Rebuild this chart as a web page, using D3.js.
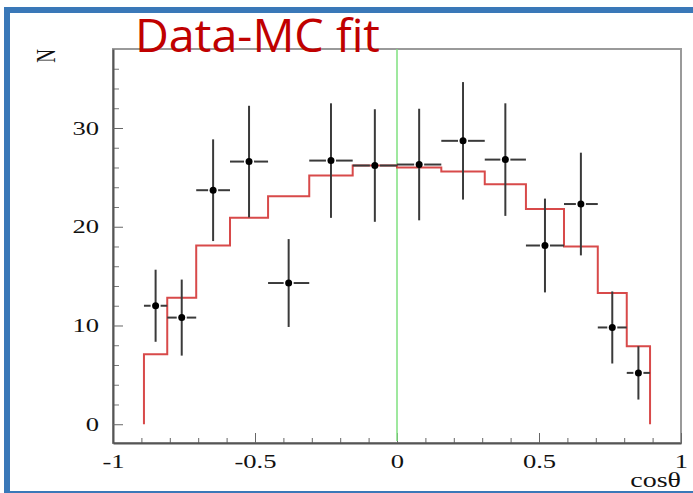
<!DOCTYPE html>
<html>
<head>
<meta charset="utf-8">
<script src="https://cdn.jsdelivr.net/npm/d3@7"></script>
<style>
  html, body { margin: 0; padding: 0; background: #ffffff; }
  svg { display: block; }
</style>
</head>
<body>
<svg id="chart" width="693" height="493"></svg>
<script>
// Bin edges in cos(theta) (equal 9-degree bins in theta)
const binEdges = [-0.891, -0.809, -0.707, -0.588, -0.454, -0.309, -0.156, 0,
                  0.156, 0.309, 0.454, 0.588, 0.707, 0.809, 0.891];
// Measured counts per bin and their errors
const dataCounts = [12.0, 10.8, 23.7, 26.6, 14.3, 26.7, 26.2, 26.3, 28.7, 26.8, 18.1, 22.3, 9.8, 5.2];
const dataErrors = [3.65, 3.85, 5.15, 5.65, 4.45, 5.8, 5.7, 5.65, 5.95, 5.7, 4.75, 5.2, 3.65, 2.7];
// Fitted Monte Carlo histogram
const mcCounts = [7.1, 12.8, 18.1, 20.9, 23.1, 25.2, 26.2, 26.0, 25.6, 24.3, 21.8, 18.0, 13.3, 7.9];
// Axis ticks
const xMajorTicks = [-1, -0.5, 0, 0.5, 1];
const xTickLabels = ["-1", "-0.5", "0", "0.5", "1"];
const yMajorTicks = [0, 10, 20, 30];
const yTickLabels = ["0", "10", "20", "30"];

const svg = d3.select("#chart");
const frame = { left: 113, right: 681, top: 49, bottom: 443 };
// the plot's text is drawn horizontally stretched
const stretch = 1.4;

const x = d3.scaleLinear().domain([-1, 1]).range([frame.left, frame.right]);
const y = d3.scaleLinear().domain([-1.9, 38]).range([frame.bottom, frame.top]);

// Slide border
svg.append("rect")
  .attr("x", 7).attr("y", 10)
  .attr("width", 730).attr("height", 484)
  .attr("fill", "#ffffff")
  .attr("stroke", "#3a78b8")
  .attr("stroke-width", 6);

// Plot frame
svg.append("rect")
  .attr("x", frame.left).attr("y", frame.top)
  .attr("width", frame.right - frame.left).attr("height", frame.bottom - frame.top)
  .attr("fill", "none")
  .attr("stroke", "#9a9a9a")
  .attr("stroke-width", 2);

const serif = "'Liberation Serif', 'DejaVu Serif', serif";

// X axis: major and minor ticks pointing inward
const xMinor = d3.range(-0.9, 1.0, 0.1).map(v => +v.toFixed(1)).filter(v => xMajorTicks.indexOf(v) < 0);
const xAxisMinor = svg.append("g")
  .attr("transform", `translate(0,${frame.bottom})`)
  .call(d3.axisBottom(x).tickValues(xMinor).tickSizeInner(-5).tickSizeOuter(0).tickFormat(""));
xAxisMinor.select(".domain").remove();
xAxisMinor.selectAll("line").attr("stroke", "#666").attr("stroke-width", 1);

const xAxis = svg.append("g")
  .attr("transform", `translate(0,${frame.bottom})`)
  .call(d3.axisBottom(x).tickValues(xMajorTicks).tickSizeInner(-10).tickSizeOuter(0)
    .tickPadding(12).tickFormat((d, i) => xTickLabels[i]));
xAxis.select(".domain").attr("stroke", "#555").attr("stroke-width", 2);
xAxis.selectAll("line").attr("stroke", "#666").attr("stroke-width", 1);
xAxis.selectAll("text")
  .attr("font-family", serif).attr("font-size", 19).attr("fill", "#111")
  .attr("transform", `scale(${stretch},1)`);

// Y axis: major and minor ticks pointing inward
const yMinor = d3.range(0, 38, 2).filter(v => yMajorTicks.indexOf(v) < 0);
const yAxisMinor = svg.append("g")
  .attr("transform", `translate(${frame.left},0)`)
  .call(d3.axisLeft(y).tickValues(yMinor).tickSizeInner(-6).tickSizeOuter(0).tickFormat(""));
yAxisMinor.select(".domain").remove();
yAxisMinor.selectAll("line").attr("stroke", "#777").attr("stroke-width", 1);

const yAxis = svg.append("g")
  .attr("transform", `translate(${frame.left},0)`)
  .call(d3.axisLeft(y).tickValues(yMajorTicks).tickSizeInner(-10).tickSizeOuter(0)
    .tickPadding(14 / stretch).tickFormat((d, i) => yTickLabels[i]));
yAxis.select(".domain").attr("stroke", "#555").attr("stroke-width", 2);
yAxis.selectAll("line").attr("stroke", "#666").attr("stroke-width", 1);
yAxis.selectAll("text")
  .attr("font-family", serif).attr("font-size", 19).attr("fill", "#111")
  .attr("transform", `scale(${stretch},1)`);

// Axis titles
svg.append("text")
  .attr("transform", `translate(${frame.right},487) scale(${stretch},1)`)
  .attr("text-anchor", "end")
  .attr("font-family", serif).attr("font-size", 20).attr("fill", "#111")
  .text("cosθ");

svg.append("text")
  .attr("transform", `translate(55,56) scale(${stretch},1) rotate(-90)`)
  .attr("text-anchor", "middle")
  .attr("font-family", serif).attr("font-size", 19).attr("fill", "#111")
  .text("N");

// Green marker line at cosθ = 0
svg.append("line")
  .attr("x1", x(0)).attr("x2", x(0))
  .attr("y1", frame.top).attr("y2", frame.bottom - 2)
  .attr("stroke", "#7fe07f").attr("stroke-width", 1.5);

// MC histogram as a step outline
const stepPts = [[binEdges[0], 0]];
mcCounts.forEach((v, i) => {
  stepPts.push([binEdges[i], v]);
  stepPts.push([binEdges[i + 1], v]);
});
stepPts.push([binEdges[binEdges.length - 1], 0]);
svg.append("path")
  .attr("d", d3.line().x(d => x(d[0])).y(d => y(d[1]))(stepPts))
  .attr("fill", "none")
  .attr("stroke", "#d84a4a")
  .attr("stroke-width", 2);

// Data points with error bars
const points = dataCounts.map((v, i) => ({
  lo: binEdges[i], hi: binEdges[i + 1],
  c: (binEdges[i] + binEdges[i + 1]) / 2,
  v: v, e: dataErrors[i]
}));
const markerR = 3.5, gap = 5;
const g = svg.append("g");
points.forEach(p => {
  const cx = x(p.c), cy = y(p.v);
  g.append("line")
    .attr("x1", cx).attr("x2", cx)
    .attr("y1", y(p.v + p.e)).attr("y2", y(p.v - p.e))
    .attr("stroke", "#3a3a3a").attr("stroke-width", 2);
  g.append("line")
    .attr("x1", x(p.lo)).attr("x2", cx - gap)
    .attr("y1", cy).attr("y2", cy)
    .attr("stroke", "#3a3a3a").attr("stroke-width", 2);
  g.append("line")
    .attr("x1", cx + gap).attr("x2", x(p.hi))
    .attr("y1", cy).attr("y2", cy)
    .attr("stroke", "#3a3a3a").attr("stroke-width", 2);
  g.append("circle")
    .attr("cx", cx).attr("cy", cy).attr("r", markerR)
    .attr("fill", "#000");
});

// Slide title
svg.append("text")
  .attr("x", 135).attr("y", 52)
  .attr("font-family", "'Open Sans', 'Noto Sans', sans-serif")
  .attr("font-size", 46)
  .attr("fill", "#c00000")
  .attr("textLength", 245)
  .attr("lengthAdjust", "spacingAndGlyphs")
  .text("Data-MC fit");
</script>
</body>
</html>
